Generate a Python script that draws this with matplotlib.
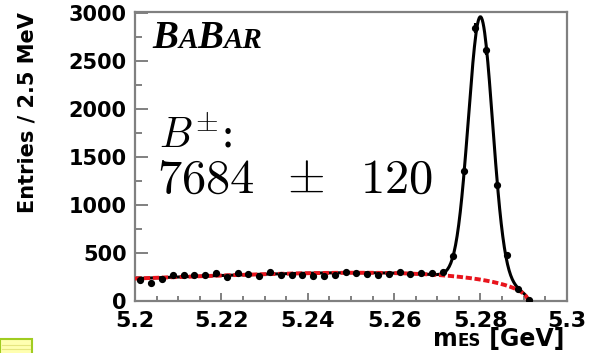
import numpy as np
import matplotlib
matplotlib.use("Agg")
import matplotlib.pyplot as plt
from matplotlib.offsetbox import TextArea, HPacker, AnnotationBbox
from matplotlib.patches import Rectangle
from matplotlib.ticker import MultipleLocator

# m_ES histogram, 2.5 MeV bins starting at 5.2 GeV
bin_lo = 5.2
bin_w = 0.0025
counts = [222, 188, 232, 267, 274, 274, 267, 292, 247, 292,
          284, 260, 302, 267, 274, 267, 260, 260, 274, 302,
          292, 284, 267, 284, 306, 284, 292, 292, 302, 470,
          1355, 2840, 2610, 1210, 475, 130, 10]

# fit: gaussian signal + ARGUS background
sig_yield = 7684
sig_err = 120
sig_mean = 5.2800
sig_width = 0.0028
argus_end = 5.291
argus_c = -33.0
bkg_at_lo = 235.0

centers = bin_lo + bin_w * (np.arange(len(counts)) + 0.5)
counts = np.array(counts, dtype=float)
errs = np.sqrt(counts)


def argus(m):
    x = np.clip(m / argus_end, 0, 1)
    return m * np.sqrt(1 - x**2) * np.exp(argus_c * (1 - x**2))


m = np.linspace(bin_lo, argus_end, 500)
bkg = bkg_at_lo * argus(m) / argus(np.array(bin_lo))
sig = sig_yield * bin_w / (np.sqrt(2 * np.pi) * sig_width) * \
    np.exp(-0.5 * ((m - sig_mean) / sig_width) ** 2)
total = bkg + sig

plt.rcParams["mathtext.fontset"] = "cm"
fig = plt.figure(figsize=(6.04, 3.53), dpi=100)
ax = fig.add_axes([0.2235, 0.147, 0.715, 0.819])

ax.plot(m, total, color="black", lw=2.2, zorder=2)
ax.plot(m, bkg, color="#e8141c", lw=2.8, ls=(0, (1.6, 0.7)), zorder=3)
ax.errorbar(centers, counts, yerr=errs, fmt="o", color="black", ms=4.2,
            elinewidth=1.5, capsize=0, zorder=4)

ax.set_xlim(5.2, 5.3)
ax.set_ylim(0, 3010)
ax.xaxis.set_minor_locator(MultipleLocator(0.005))
ax.yaxis.set_major_locator(MultipleLocator(500))
ax.yaxis.set_minor_locator(MultipleLocator(250))
ax.set_xticks([5.2, 5.22, 5.24, 5.26, 5.28, 5.3])
ax.set_xticklabels(["5.2", "5.22", "5.24", "5.26", "5.28", "5.3"])

gray = "#808080"
for s in ax.spines.values():
    s.set_color(gray)
    s.set_linewidth(1.6)
ax.tick_params(axis="both", which="both", direction="in", color=gray,
               width=1.4)
ax.tick_params(axis="y", which="major", length=9, pad=6, labelsize=15)
ax.tick_params(axis="y", which="minor", length=5)
ax.tick_params(axis="x", which="major", length=6, pad=7, labelsize=16)
ax.tick_params(axis="x", which="minor", length=3.5)
for lab in ax.get_xticklabels() + ax.get_yticklabels():
    lab.set_fontweight("bold")

ax.set_ylabel("Entries / 2.5 MeV", fontsize=15, fontweight="bold", loc="top")
ax.yaxis.set_label_coords(-0.225, 1.0)

# BaBar logo in small caps
bi = dict(family="Liberation Serif", weight="bold", style="italic")
logo = HPacker(children=[
    TextArea("B", textprops=dict(size=28, **bi)),
    TextArea("A", textprops=dict(size=21, **bi)),
    TextArea("B", textprops=dict(size=28, **bi)),
    TextArea("AR", textprops=dict(size=21, **bi)),
], align="baseline", pad=0, sep=0)
ax.add_artist(AnnotationBbox(logo, (0.04, 0.972), xycoords="axes fraction",
                             box_alignment=(0, 1), frameon=False))

# signal yield
ax.text(0.055, 0.53, r"$B^{\pm}$:", transform=ax.transAxes, fontsize=30,
        family="DejaVu Serif", va="baseline")
ax.text(0.052, 0.375, r"$%d$" % sig_yield, transform=ax.transAxes,
        fontsize=35, va="baseline")
ax.text(0.394, 0.375, r"$\pm$", transform=ax.transAxes,
        fontsize=35, va="baseline", ha="center")
ax.text(0.522, 0.375, r"$%d$" % sig_err, transform=ax.transAxes,
        fontsize=35, va="baseline")

# x label: m_ES with small-caps letters
bs = dict(family="DejaVu Sans", weight="bold")
xlab = HPacker(children=[
    TextArea("m", textprops=dict(size=17, **bs)),
    TextArea("ES", textprops=dict(size=12, **bs)),
    TextArea(" [GeV]", textprops=dict(size=17, **bs)),
], align="baseline", pad=0, sep=0)
ax.add_artist(AnnotationBbox(xlab, (0.995, -0.09), xycoords="axes fraction",
                             box_alignment=(1, 1), frameon=False,
                             annotation_clip=False))

# small note marker in the lower-left corner
fig.patches.append(Rectangle((0.0, -0.01), 0.053, 0.05,
                             transform=fig.transFigure, facecolor="#ffffb0",
                             edgecolor="#a0cc20", lw=1.5))
for yy in (0.012, 0.024):
    fig.add_artist(plt.Line2D([0.003, 0.05], [yy, yy], transform=fig.transFigure,
                              color="#e6e680", lw=0.8))

fig.savefig("out.png", dpi=100)
